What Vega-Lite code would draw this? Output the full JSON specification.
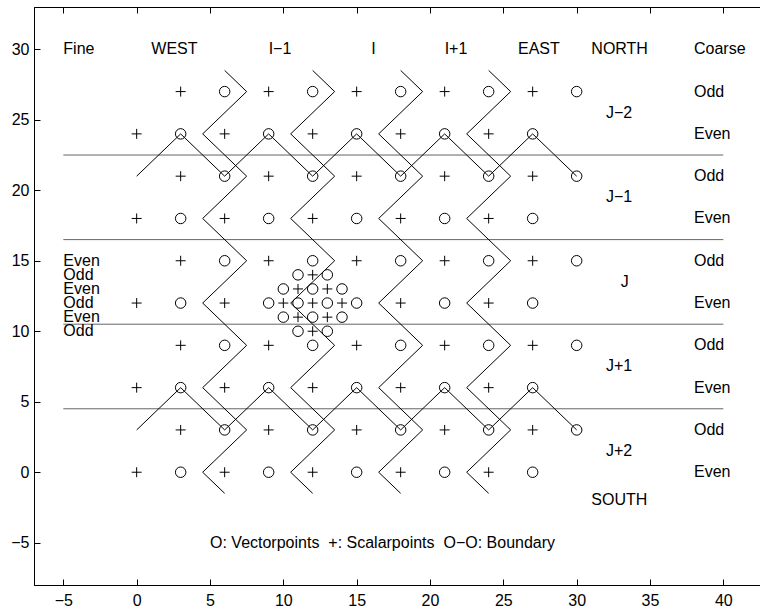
{
  "$schema": "https://vega.github.io/schema/vega-lite/v6.json",
  "width": 726,
  "height": 578,
  "autosize": "none",
  "padding": {"left": 34, "top": 7, "right": 0, "bottom": 26},
  "background": "white",
  "config": {
    "view": {"stroke": "black", "strokeWidth": 1},
    "axis": {
      "grid": false,
      "domainColor": "black",
      "tickColor": "black",
      "labelColor": "black",
      "labelFont": "Liberation Sans",
      "labelFontSize": 16,
      "title": null
    }
  },
  "datasets": {
    "points": [
      {"x":3,"y":27,"k":"+"},{"x":6,"y":27,"k":"o"},{"x":9,"y":27,"k":"+"},{"x":12,"y":27,"k":"o"},{"x":15,"y":27,"k":"+"},{"x":18,"y":27,"k":"o"},{"x":21,"y":27,"k":"+"},{"x":24,"y":27,"k":"o"},{"x":27,"y":27,"k":"+"},{"x":30,"y":27,"k":"o"},
      {"x":0,"y":24,"k":"+"},{"x":3,"y":24,"k":"o"},{"x":6,"y":24,"k":"+"},{"x":9,"y":24,"k":"o"},{"x":12,"y":24,"k":"+"},{"x":15,"y":24,"k":"o"},{"x":18,"y":24,"k":"+"},{"x":21,"y":24,"k":"o"},{"x":24,"y":24,"k":"+"},{"x":27,"y":24,"k":"o"},
      {"x":3,"y":21,"k":"+"},{"x":6,"y":21,"k":"o"},{"x":9,"y":21,"k":"+"},{"x":12,"y":21,"k":"o"},{"x":15,"y":21,"k":"+"},{"x":18,"y":21,"k":"o"},{"x":21,"y":21,"k":"+"},{"x":24,"y":21,"k":"o"},{"x":27,"y":21,"k":"+"},{"x":30,"y":21,"k":"o"},
      {"x":0,"y":18,"k":"+"},{"x":3,"y":18,"k":"o"},{"x":6,"y":18,"k":"+"},{"x":9,"y":18,"k":"o"},{"x":12,"y":18,"k":"+"},{"x":15,"y":18,"k":"o"},{"x":18,"y":18,"k":"+"},{"x":21,"y":18,"k":"o"},{"x":24,"y":18,"k":"+"},{"x":27,"y":18,"k":"o"},
      {"x":3,"y":15,"k":"+"},{"x":6,"y":15,"k":"o"},{"x":9,"y":15,"k":"+"},{"x":12,"y":15,"k":"o"},{"x":15,"y":15,"k":"+"},{"x":18,"y":15,"k":"o"},{"x":21,"y":15,"k":"+"},{"x":24,"y":15,"k":"o"},{"x":27,"y":15,"k":"+"},{"x":30,"y":15,"k":"o"},
      {"x":0,"y":12,"k":"+"},{"x":3,"y":12,"k":"o"},{"x":6,"y":12,"k":"+"},{"x":9,"y":12,"k":"o"},{"x":12,"y":12,"k":"+"},{"x":15,"y":12,"k":"o"},{"x":18,"y":12,"k":"+"},{"x":21,"y":12,"k":"o"},{"x":24,"y":12,"k":"+"},{"x":27,"y":12,"k":"o"},
      {"x":3,"y":9,"k":"+"},{"x":6,"y":9,"k":"o"},{"x":9,"y":9,"k":"+"},{"x":12,"y":9,"k":"o"},{"x":15,"y":9,"k":"+"},{"x":18,"y":9,"k":"o"},{"x":21,"y":9,"k":"+"},{"x":24,"y":9,"k":"o"},{"x":27,"y":9,"k":"+"},{"x":30,"y":9,"k":"o"},
      {"x":0,"y":6,"k":"+"},{"x":3,"y":6,"k":"o"},{"x":6,"y":6,"k":"+"},{"x":9,"y":6,"k":"o"},{"x":12,"y":6,"k":"+"},{"x":15,"y":6,"k":"o"},{"x":18,"y":6,"k":"+"},{"x":21,"y":6,"k":"o"},{"x":24,"y":6,"k":"+"},{"x":27,"y":6,"k":"o"},
      {"x":3,"y":3,"k":"+"},{"x":6,"y":3,"k":"o"},{"x":9,"y":3,"k":"+"},{"x":12,"y":3,"k":"o"},{"x":15,"y":3,"k":"+"},{"x":18,"y":3,"k":"o"},{"x":21,"y":3,"k":"+"},{"x":24,"y":3,"k":"o"},{"x":27,"y":3,"k":"+"},{"x":30,"y":3,"k":"o"},
      {"x":0,"y":0,"k":"+"},{"x":3,"y":0,"k":"o"},{"x":6,"y":0,"k":"+"},{"x":9,"y":0,"k":"o"},{"x":12,"y":0,"k":"+"},{"x":15,"y":0,"k":"o"},{"x":18,"y":0,"k":"+"},{"x":21,"y":0,"k":"o"},{"x":24,"y":0,"k":"+"},{"x":27,"y":0,"k":"o"},
      {"x":11,"y":14,"k":"o"},{"x":12,"y":14,"k":"+"},{"x":13,"y":14,"k":"o"},
      {"x":10,"y":13,"k":"o"},{"x":11,"y":13,"k":"+"},{"x":12,"y":13,"k":"o"},{"x":13,"y":13,"k":"+"},{"x":14,"y":13,"k":"o"},
      {"x":10,"y":12,"k":"+"},{"x":11,"y":12,"k":"o"},{"x":13,"y":12,"k":"o"},{"x":14,"y":12,"k":"+"},
      {"x":10,"y":11,"k":"o"},{"x":11,"y":11,"k":"+"},{"x":12,"y":11,"k":"o"},{"x":13,"y":11,"k":"+"},{"x":14,"y":11,"k":"o"},
      {"x":11,"y":10,"k":"o"},{"x":12,"y":10,"k":"+"},{"x":13,"y":10,"k":"o"}
    ],
    "lines": [
      {"g":"h1","i":0,"x":-5,"y":22.5,"t":"h"},{"g":"h1","i":1,"x":40,"y":22.5,"t":"h"},
      {"g":"h2","i":0,"x":-5,"y":16.5,"t":"h"},{"g":"h2","i":1,"x":40,"y":16.5,"t":"h"},
      {"g":"h3","i":0,"x":-5,"y":10.5,"t":"h"},{"g":"h3","i":1,"x":40,"y":10.5,"t":"h"},
      {"g":"h4","i":0,"x":-5,"y":4.5,"t":"h"},{"g":"h4","i":1,"x":40,"y":4.5,"t":"h"},
      {"g":"v1","i":0,"x":6,"y":28.5,"t":"b"},{"g":"v1","i":1,"x":7.5,"y":27,"t":"b"},{"g":"v1","i":2,"x":4.5,"y":24,"t":"b"},{"g":"v1","i":3,"x":7.5,"y":21,"t":"b"},{"g":"v1","i":4,"x":4.5,"y":18,"t":"b"},{"g":"v1","i":5,"x":7.5,"y":15,"t":"b"},{"g":"v1","i":6,"x":4.5,"y":12,"t":"b"},{"g":"v1","i":7,"x":7.5,"y":9,"t":"b"},{"g":"v1","i":8,"x":4.5,"y":6,"t":"b"},{"g":"v1","i":9,"x":7.5,"y":3,"t":"b"},{"g":"v1","i":10,"x":4.5,"y":0,"t":"b"},{"g":"v1","i":11,"x":6,"y":-1.5,"t":"b"},
      {"g":"v2","i":0,"x":12,"y":28.5,"t":"b"},{"g":"v2","i":1,"x":13.5,"y":27,"t":"b"},{"g":"v2","i":2,"x":10.5,"y":24,"t":"b"},{"g":"v2","i":3,"x":13.5,"y":21,"t":"b"},{"g":"v2","i":4,"x":10.5,"y":18,"t":"b"},{"g":"v2","i":5,"x":13.5,"y":15,"t":"b"},{"g":"v2","i":6,"x":10.5,"y":12,"t":"b"},{"g":"v2","i":7,"x":13.5,"y":9,"t":"b"},{"g":"v2","i":8,"x":10.5,"y":6,"t":"b"},{"g":"v2","i":9,"x":13.5,"y":3,"t":"b"},{"g":"v2","i":10,"x":10.5,"y":0,"t":"b"},{"g":"v2","i":11,"x":12,"y":-1.5,"t":"b"},
      {"g":"v3","i":0,"x":18,"y":28.5,"t":"b"},{"g":"v3","i":1,"x":19.5,"y":27,"t":"b"},{"g":"v3","i":2,"x":16.5,"y":24,"t":"b"},{"g":"v3","i":3,"x":19.5,"y":21,"t":"b"},{"g":"v3","i":4,"x":16.5,"y":18,"t":"b"},{"g":"v3","i":5,"x":19.5,"y":15,"t":"b"},{"g":"v3","i":6,"x":16.5,"y":12,"t":"b"},{"g":"v3","i":7,"x":19.5,"y":9,"t":"b"},{"g":"v3","i":8,"x":16.5,"y":6,"t":"b"},{"g":"v3","i":9,"x":19.5,"y":3,"t":"b"},{"g":"v3","i":10,"x":16.5,"y":0,"t":"b"},{"g":"v3","i":11,"x":18,"y":-1.5,"t":"b"},
      {"g":"v4","i":0,"x":24,"y":28.5,"t":"b"},{"g":"v4","i":1,"x":25.5,"y":27,"t":"b"},{"g":"v4","i":2,"x":22.5,"y":24,"t":"b"},{"g":"v4","i":3,"x":25.5,"y":21,"t":"b"},{"g":"v4","i":4,"x":22.5,"y":18,"t":"b"},{"g":"v4","i":5,"x":25.5,"y":15,"t":"b"},{"g":"v4","i":6,"x":22.5,"y":12,"t":"b"},{"g":"v4","i":7,"x":25.5,"y":9,"t":"b"},{"g":"v4","i":8,"x":22.5,"y":6,"t":"b"},{"g":"v4","i":9,"x":25.5,"y":3,"t":"b"},{"g":"v4","i":10,"x":22.5,"y":0,"t":"b"},{"g":"v4","i":11,"x":24,"y":-1.5,"t":"b"},
      {"g":"z1","i":0,"x":0,"y":21,"t":"b"},{"g":"z1","i":1,"x":3,"y":24,"t":"b"},{"g":"z1","i":2,"x":6,"y":21,"t":"b"},{"g":"z1","i":3,"x":9,"y":24,"t":"b"},{"g":"z1","i":4,"x":12,"y":21,"t":"b"},{"g":"z1","i":5,"x":15,"y":24,"t":"b"},{"g":"z1","i":6,"x":18,"y":21,"t":"b"},{"g":"z1","i":7,"x":21,"y":24,"t":"b"},{"g":"z1","i":8,"x":24,"y":21,"t":"b"},{"g":"z1","i":9,"x":27,"y":24,"t":"b"},{"g":"z1","i":10,"x":30,"y":21,"t":"b"},
      {"g":"z2","i":0,"x":0,"y":3,"t":"b"},{"g":"z2","i":1,"x":3,"y":6,"t":"b"},{"g":"z2","i":2,"x":6,"y":3,"t":"b"},{"g":"z2","i":3,"x":9,"y":6,"t":"b"},{"g":"z2","i":4,"x":12,"y":3,"t":"b"},{"g":"z2","i":5,"x":15,"y":6,"t":"b"},{"g":"z2","i":6,"x":18,"y":3,"t":"b"},{"g":"z2","i":7,"x":21,"y":6,"t":"b"},{"g":"z2","i":8,"x":24,"y":3,"t":"b"},{"g":"z2","i":9,"x":27,"y":6,"t":"b"},{"g":"z2","i":10,"x":30,"y":3,"t":"b"}
    ],
    "labels": [
      {"x":-5,"y":30,"s":"Fine"},{"x":1,"y":30,"s":"WEST"},{"x":9,"y":30,"s":"I−1"},{"x":16,"y":30,"s":"I"},{"x":21,"y":30,"s":"I+1"},{"x":26,"y":30,"s":"EAST"},{"x":31,"y":30,"s":"NORTH"},{"x":38,"y":30,"s":"Coarse"},
      {"x":38,"y":27,"s":"Odd"},{"x":38,"y":24,"s":"Even"},{"x":38,"y":21,"s":"Odd"},{"x":38,"y":18,"s":"Even"},{"x":38,"y":15,"s":"Odd"},{"x":38,"y":12,"s":"Even"},{"x":38,"y":9,"s":"Odd"},{"x":38,"y":6,"s":"Even"},{"x":38,"y":3,"s":"Odd"},{"x":38,"y":0,"s":"Even"},
      {"x":32,"y":25.5,"s":"J−2"},{"x":32,"y":19.5,"s":"J−1"},{"x":33,"y":13.5,"s":"J"},{"x":32,"y":7.5,"s":"J+1"},{"x":32,"y":1.5,"s":"J+2"},{"x":31,"y":-2,"s":"SOUTH"},
      {"x":-5,"y":15,"s":"Even"},{"x":-5,"y":14,"s":"Odd"},{"x":-5,"y":13,"s":"Even"},{"x":-5,"y":12,"s":"Odd"},{"x":-5,"y":11,"s":"Even"},{"x":-5,"y":10,"s":"Odd"},
      {"x":5,"y":-5,"s":"O: Vectorpoints\u00a0 +: Scalarpoints\u00a0 O−O: Boundary"}
    ]
  },
  "resolve": {"axis": {"x": "independent"}},
  "layer": [
    {
      "data": {"name": "lines"},
      "mark": {"type": "line", "strokeWidth": 1, "clip": true},
      "encoding": {
        "x": {"field": "x", "type": "quantitative", "scale": {"domain": [-7, 42.5], "nice": false, "zero": false},
              "axis": {"orient": "bottom", "values": [-5,0,5,10,15,20,25,30,35,40], "tickSize": -6, "labelPadding": 13, "labelFlush": false}},
        "y": {"field": "y", "type": "quantitative", "scale": {"domain": [-8, 33], "nice": false, "zero": false},
              "axis": {"orient": "left", "values": [-5,0,5,10,15,20,25,30], "tickSize": -6, "labelPadding": 11, "labelFlush": false}},
        "detail": {"field": "g"},
        "order": {"field": "i", "type": "quantitative"},
        "color": {"field": "t", "type": "nominal", "scale": {"domain": ["b", "h"], "range": ["black", "#666666"]}, "legend": null}
      }
    },
    {
      "data": {"name": "points"},
      "mark": {"type": "point", "filled": false, "stroke": "black", "strokeWidth": 1, "opacity": 1},
      "encoding": {
        "x": {"field": "x", "type": "quantitative",
              "axis": {"orient": "top", "values": [-5,0,5,10,15,20,25,30,35,40], "tickSize": -6, "labels": false}},
        "y": {"field": "y", "type": "quantitative"},
        "shape": {"field": "k", "type": "nominal", "scale": {"domain": ["o", "+"], "range": ["circle", "M-1,0H1M0,-1V1"]}, "legend": null},
        "size": {"field": "k", "type": "nominal", "scale": {"domain": ["o", "+"], "range": [110, 100]}, "legend": null}
      }
    },
    {
      "data": {"name": "labels"},
      "mark": {"type": "text", "align": "left", "baseline": "middle", "font": "Liberation Sans", "fontSize": 16, "color": "black"},
      "encoding": {
        "x": {"field": "x", "type": "quantitative", "axis": null},
        "y": {"field": "y", "type": "quantitative"},
        "text": {"field": "s"}
      }
    }
  ]
}
